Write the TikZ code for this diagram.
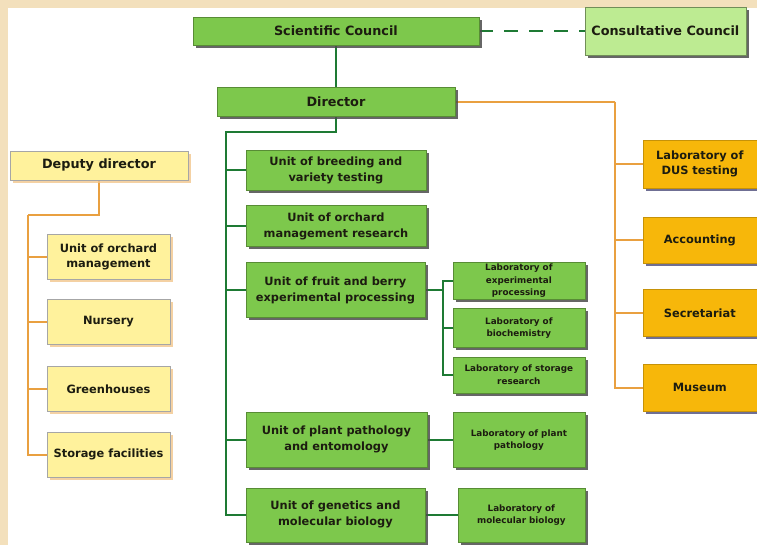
\documentclass[tikz,border=0pt]{standalone}
\usepackage{fontspec}
\setmainfont{DejaVu Sans}
\usetikzlibrary{shadows}

\definecolor{bgbeige}{HTML}{F3E0BC}
\definecolor{unitgreen}{HTML}{7DC84C}
\definecolor{palegreen}{HTML}{BDEB92}
\definecolor{darkgreen}{HTML}{1E7A34}
\definecolor{gold}{HTML}{F7B70A}
\definecolor{paleyellow}{HTML}{FFF29C}
\definecolor{lineorange}{HTML}{E9A040}
\definecolor{inkdark}{HTML}{1C1C10}

\pgfdeclarelayer{paper}
\pgfdeclarelayer{wires}
\pgfsetlayers{paper,wires,main}

\begin{document}
\begin{tikzpicture}[x=1pt, y=-1pt]
			\tikzset{
			    boxbase/.style= {rectangle, align=center, inner sep=1pt, text=inkdark, font=\bfseries},
			    gbox/.style= {boxbase, fill=unitgreen, draw=unitgreen!70!black, line width=0.4pt,
			        drop shadow={shadow xshift=3pt, shadow yshift=-3pt, fill=black!70, opacity=.85}},
			    lbox/.style= {gbox, fill=palegreen, draw=palegreen!60!black},
			    labbox/.style= {gbox, font=\fontsize{8.8}{12.5}\selectfont\bfseries},
			    obox/.style= {boxbase, fill=gold, draw=gold!80!black, line width=0.4pt,
			        font=\fontsize{11.4}{15}\selectfont\bfseries,
			        drop shadow={shadow xshift=3pt, shadow yshift=-3pt, fill=black!55!blue!40!gray, opacity=.8}},
			    ybox/.style= {boxbase, fill=paleyellow, draw=black!35, line width=0.4pt,
			        font=\fontsize{11.4}{15}\selectfont\bfseries,
			        drop shadow={shadow xshift=3pt, shadow yshift=-3pt, fill=lineorange!60, opacity=.8}},
			    big/.style= {font=\fontsize{12.8}{15}\selectfont\bfseries},
			    unit/.style= {font=\fontsize{11.4}{16}\selectfont\bfseries},
			    gline/.style= {draw=darkgreen, line width=2.2pt},
			    oline/.style= {draw=lineorange, line width=2.2pt},
			    dline/.style= {draw=darkgreen, line width=2.8pt, dash pattern=on 14pt off 11pt},
			}

			% background
			\begin{pgfonlayer}{paper}
			\fill[bgbeige] (0,0) rectangle (757,545);
			\fill[white] (8,8) rectangle (757,545);
			\end{pgfonlayer}

			% top
			\node[gbox, big, minimum width=286pt, minimum height=28pt] (sc) at (336, 31) {Scientific Council};
			\node[lbox, big, minimum width=161pt, minimum height=48pt] (cc) at (665.5, 31) {Consultative Council};
			\node[gbox, big, minimum width=238pt, minimum height=29pt] (dir) at (336, 102) {Director};
			\node[ybox, big, minimum width=178pt, minimum height=29pt] (dd) at (99, 165.5) {Deputy director};

			% units
			\node[gbox, unit, minimum width=180pt, minimum height=40pt] (u1) at (336, 170) {Unit of breeding and\\variety testing};
			\node[gbox, unit, minimum width=180pt, minimum height=41pt] (u2) at (336, 226) {Unit of orchard\\management research};
			\node[gbox, unit, minimum width=179pt, minimum height=55pt] (u3) at (335.5, 290) {Unit of fruit and berry\\experimental processing};
			\node[gbox, unit, minimum width=181pt, minimum height=55pt] (u4) at (336.5, 440) {Unit of plant pathology\\and entomology};
			\node[gbox, unit, minimum width=179pt, minimum height=54pt] (u5) at (335.5, 515) {Unit of genetics and\\molecular biology};

			% laboratories
			\node[labbox, minimum width=132pt, minimum height=37pt] (l1) at (519, 281) {Laboratory of\\experimental\\processing};
			\node[labbox, minimum width=132pt, minimum height=39pt] (l2) at (519, 328) {Laboratory of\\biochemistry};
			\node[labbox, minimum width=132pt, minimum height=36pt] (l3) at (519, 375) {Laboratory of storage\\research};
			\node[labbox, minimum width=132pt, minimum height=55pt] (l4) at (519, 440) {Laboratory of plant\\pathology};
			\node[labbox, minimum width=127pt, minimum height=54pt] (l5) at (521.5, 515) {Laboratory of\\molecular biology};

			% services
			\node[obox, minimum width=114pt, minimum height=48pt] (o1) at (700, 164) {Laboratory of\\DUS testing};
			\node[obox, minimum width=114pt, minimum height=46pt] (o2) at (700, 240) {Accounting};
			\node[obox, minimum width=114pt, minimum height=47pt] (o3) at (700, 313) {Secretariat};
			\node[obox, minimum width=114pt, minimum height=47pt] (o4) at (700, 388) {Museum};

			% deputy side
			\node[ybox, minimum width=123pt, minimum height=45pt] (y1) at (108.5, 257) {Unit of orchard\\management};
			\node[ybox, minimum width=123pt, minimum height=45pt] (y2) at (108.5, 322) {Nursery};
			\node[ybox, minimum width=123pt, minimum height=45pt] (y3) at (108.5, 389) {Greenhouses};
			\node[ybox, minimum width=123pt, minimum height=45pt] (y4) at (108.5, 455) {Storage facilities};

			\coordinate (gtrunk) at (226, 132);
			\coordinate (lfork) at (443, 290);
			\coordinate (otrunk) at (615, 102);
			\coordinate (yfork) at (28, 215);

			\begin{pgfonlayer}{wires}
			\draw[dline] (sc.east) -- (cc.west);
			\draw[gline] (sc.south) -- (dir.north);
			\draw[gline] (dir.south) |- (gtrunk) |- (u5.west);
			\foreach \u in {u1, u2, u3, u4}
			    \draw[gline] (gtrunk) |- (\u.west);
			\draw[gline] (u3.east) -- (lfork);
			\foreach \l in {l1, l2, l3}
			    \draw[gline] (lfork) |- (\l.west);
			\draw[gline] (u4.east) -- (l4.west);
			\draw[gline] (u5.east) -- (l5.west);

			\draw[oline] (dir.east) -- (otrunk);
			\foreach \o in {o1, o2, o3, o4}
			    \draw[oline] (otrunk) |- (\o.west);
			\draw[oline] (dd.south) |- (yfork);
			\foreach \y in {y1, y2, y3, y4}
			    \draw[oline] (yfork) |- (\y.west);
			\end{pgfonlayer}
\end{tikzpicture}
\end{document}
